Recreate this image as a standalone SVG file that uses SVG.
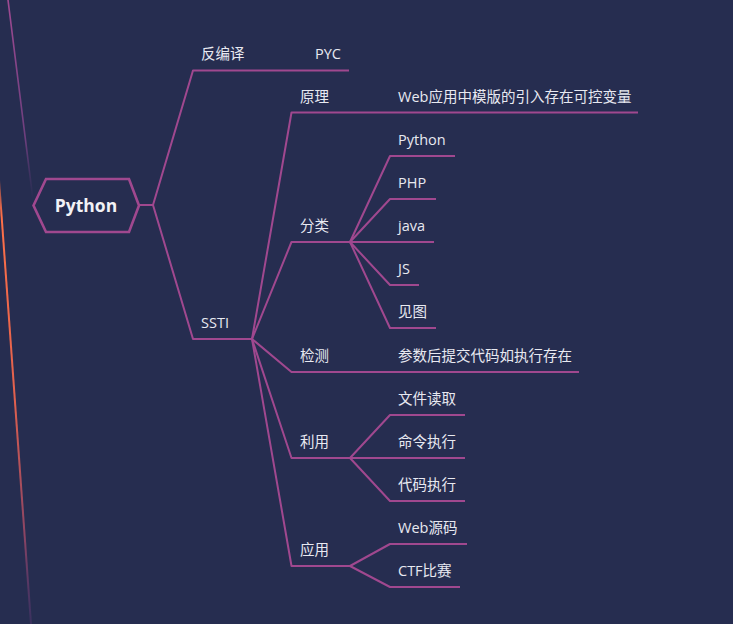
<svg xmlns="http://www.w3.org/2000/svg" width="733" height="624" viewBox="0 0 733 624">
  <defs>
    <linearGradient id="gPurple" gradientUnits="userSpaceOnUse" x1="8" y1="0" x2="33" y2="200">
      <stop offset="0" stop-color="#a04a92" stop-opacity="1"/>
      <stop offset="0.7" stop-color="#8a4690" stop-opacity="0.7"/>
      <stop offset="1" stop-color="#6a3a80" stop-opacity="0"/>
    </linearGradient>
    <linearGradient id="gOrange" gradientUnits="userSpaceOnUse" x1="0" y1="180" x2="31" y2="624">
      <stop offset="0" stop-color="#ff7048" stop-opacity="0.4"/>
      <stop offset="0.08" stop-color="#ff7048" stop-opacity="1"/>
      <stop offset="0.5" stop-color="#e0604e" stop-opacity="1"/>
      <stop offset="0.8" stop-color="#a44a68" stop-opacity="0.8"/>
      <stop offset="1" stop-color="#6a3a80" stop-opacity="0.3"/>
    </linearGradient>
    <style>
      .ln { fill: none; stroke: #a0488f; stroke-width: 2; stroke-linejoin: round; stroke-linecap: butt; }
      .t { font-family: "Open Sans", "Noto Sans CJK SC", sans-serif; font-size: 14.5px; fill: #e8e9f1; }
      .root { font-family: "Open Sans", "Noto Sans CJK SC", sans-serif; font-size: 17.5px; font-weight: bold; fill: #f2f2f6; }
    </style>
  </defs>
  <rect x="0" y="0" width="733" height="624" fill="#262d50"/>

  <!-- decorative side lines -->
  <line x1="8" y1="0" x2="33" y2="200" stroke="url(#gPurple)" stroke-width="1.6"/>
  <line x1="-1" y1="180" x2="31" y2="624" stroke="url(#gOrange)" stroke-width="2"/>

  <g id="connectors">
    <!-- root -->
    <polyline class="ln" points="139,205 153,205 193,70.5 349,70.5"/>
    <polyline class="ln" points="153,205 193,339 252,339"/>
    <!-- SSTI children -->
    <polyline class="ln" points="252,339 291.5,112.5 638,112.5"/>
    <polyline class="ln" points="252,339 291.5,242 350,242"/>
    <polyline class="ln" points="252,339 291.5,372 579,372"/>
    <polyline class="ln" points="252,339 291.5,458 350,458"/>
    <polyline class="ln" points="252,339 291.5,566 350,566"/>
    <!-- 分类 children -->
    <polyline class="ln" points="350,242 390,156 455,156"/>
    <polyline class="ln" points="350,242 390,199 436,199"/>
    <polyline class="ln" points="350,242 434,242"/>
    <polyline class="ln" points="350,242 390,285 419,285"/>
    <polyline class="ln" points="350,242 390,328 436,328"/>
    <!-- 利用 children -->
    <polyline class="ln" points="350,458 390,415 465,415"/>
    <polyline class="ln" points="350,458 465,458"/>
    <polyline class="ln" points="350,458 390,501 465,501"/>
    <!-- 应用 children -->
    <polyline class="ln" points="350,566 390,544 467,544"/>
    <polyline class="ln" points="350,566 390,587 460,587"/>
  </g>

  <g id="node-python">
    <polygon points="33.5,205.5 46,179 129,179 139,205.5 129,232 46,232" fill="#262d50" stroke="#a0488f" stroke-width="2.6"/>
    <text class="root" x="86" y="211.5" text-anchor="middle">Python</text>
  </g>
  <g id="node-decompile"><text class="t" x="201" y="59">反编译</text></g>
  <g id="node-pyc"><text class="t" x="315" y="59">PYC</text></g>
  <g id="node-ssti"><text class="t" x="201" y="328">SSTI</text></g>
  <g id="node-principle"><text class="t" x="300" y="102">原理</text></g>
  <g id="node-principle-desc"><text class="t" x="398" y="102">Web应用中模版的引入存在可控变量</text></g>
  <g id="node-category"><text class="t" x="300" y="231">分类</text></g>
  <g id="node-cat-python"><text class="t" x="398" y="145">Python</text></g>
  <g id="node-cat-php"><text class="t" x="398" y="188">PHP</text></g>
  <g id="node-cat-java"><text class="t" x="398" y="231">java</text></g>
  <g id="node-cat-js"><text class="t" x="398" y="274">JS</text></g>
  <g id="node-cat-fig"><text class="t" x="398" y="317">见图</text></g>
  <g id="node-detect"><text class="t" x="300" y="361">检测</text></g>
  <g id="node-detect-desc"><text class="t" x="398" y="361">参数后提交代码如执行存在</text></g>
  <g id="node-use"><text class="t" x="300" y="447">利用</text></g>
  <g id="node-use-file"><text class="t" x="398" y="404">文件读取</text></g>
  <g id="node-use-cmd"><text class="t" x="398" y="447">命令执行</text></g>
  <g id="node-use-code"><text class="t" x="398" y="490">代码执行</text></g>
  <g id="node-app"><text class="t" x="300" y="555">应用</text></g>
  <g id="node-app-web"><text class="t" x="398" y="533">Web源码</text></g>
  <g id="node-app-ctf"><text class="t" x="398" y="576">CTF比赛</text></g>
</svg>
